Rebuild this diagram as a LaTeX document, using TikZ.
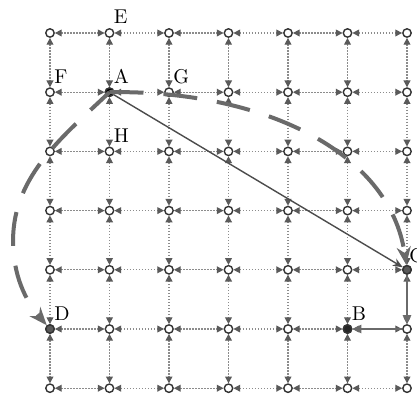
\documentclass[tikz,border=0pt]{standalone}
\usepackage{tikz}
\usetikzlibrary{arrows.meta}
\definecolor{gdot}{HTML}{8C8C8C}
\definecolor{gtip}{HTML}{5A5A5A}
\definecolor{gpath}{HTML}{6A6A6A}
\tikzset{
  hub/.style={circle, draw=black!80, fill=white, line width=0.7pt, minimum size=4.2pt, inner sep=0pt},
  link/.style={{Triangle[length=3.4pt, width=3.4pt, color=gtip]}-{Triangle[length=3.4pt, width=3.4pt, color=gtip]}, draw=gdot, line width=0.6pt, dash pattern=on 0.6pt off 0.9pt},
  lbl/.style={anchor=base west, inner sep=0pt, font=\normalsize},
  route/.style={-{Stealth[length=9pt, width=7pt]}, draw=gpath, line width=2pt, dash pattern=on 17pt off 10pt},
  direct/.style={-{Stealth[length=5pt, width=4pt]}, draw=black!70, line width=0.7pt},
  step route/.style={-{Triangle[length=4.5pt, width=4pt]}, draw=gpath, line width=1.3pt},
}

\begin{document}
\begin{tikzpicture}[x=29.75pt, y=-29.6pt]
  \useasboundingbox[fill=white] (-0.84,-0.557) rectangle (6.168,6.132);
  % 7 x 7 grid of points
  \foreach \i in {0,...,6}{
    \foreach \j in {0,...,6}{
      \node[hub] (g-\i-\j) at (\i,\j) {};
    }
  }
  % dotted links, tips pointing into each point
  \foreach \i [count=\ni from 1] in {0,...,5}{
    \foreach \j in {0,...,6}{
      \draw[link] (g-\i-\j) -- (g-\ni-\j);
      \draw[link] (g-\j-\i) -- (g-\j-\ni);
    }
  }
  % marked points
  \node[hub, fill=black] (A) at (g-1-1) {};
  \node[hub, fill=black!85] (B) at (g-5-5) {};
  \node[hub, fill=black!65] (C) at (g-6-4) {};
  \node[hub, fill=black!65] (D) at (g-0-5) {};
  % letters
  \node[lbl] (lE) at ([shift={(2pt,4.5pt)}]g-1-0.center) {E};
  \node[lbl] (lF) at ([shift={(2pt,4.5pt)}]g-0-1.center) {F};
  \node[lbl] (lA) at ([shift={(2pt,4.5pt)}]A.center) {A};
  \node[lbl] (lG) at ([shift={(2pt,4.5pt)}]g-2-1.center) {G};
  \node[lbl] (lH) at ([shift={(2pt,4.5pt)}]g-1-2.center) {H};
  \node[lbl] (lD) at ([shift={(2pt,4.5pt)}]D.center) {D};
  \node[lbl] (lB) at ([shift={(2pt,4.5pt)}]B.center) {B};
  \node[lbl] (lC) at ([shift={(1pt,3.5pt)}]C.center) {C};
  % straight line A to C
  \draw[direct] (A) -- (C);
  % C down, then left to B
  \draw[step route] (C) -- (g-6-5);
  \draw[step route] (g-6-5) -- (B);
  % dashed detours from A
  \draw[route] (A.center) .. controls (3.53,0.96) and (5.71,1.98) .. (C);
  \draw[route, dash phase=4pt] (A.center) .. controls (0.25,1.72) and (-0.62,2.40) .. (-0.62,3.5)
    .. controls (-0.62,4.09) and (-0.42,4.51) .. (D);
\end{tikzpicture}
\end{document}
